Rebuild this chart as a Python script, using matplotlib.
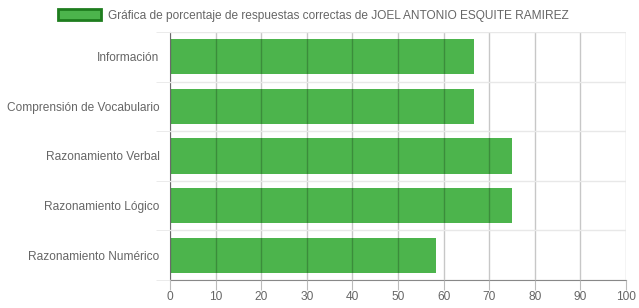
#!/usr/bin/env python3

# Porcentaje de respuestas correctas por area

import numpy as np
import matplotlib.pyplot as plt
from matplotlib.patches import Patch

areas = [
    "Información",
    "Comprensión de Vocabulario",
    "Razonamiento Verbal",
    "Razonamiento Lógico",
    "Razonamiento Numérico",
]
porcentajes = [66.67, 66.67, 75.0, 75.0, 58.33]
x_ticks = list(range(0, 101, 10))
titulo = "Gráfica de porcentaje de respuestas correctas de JOEL ANTONIO ESQUITE RAMIREZ"

plt.rcParams["font.family"] = ["Liberation Sans", "DejaVu Sans"]
fs = 8.6

fig = plt.figure(figsize=(6.39, 3.08), dpi=100)
ax = fig.add_axes([170 / 639, 28 / 308, 456 / 639, 248 / 308])

y = np.arange(len(areas))
ax.barh(y, porcentajes, height=0.71, color="#4cb44c", zorder=2)

ax.set_xlim(0, 100)
ax.set_ylim(len(areas) - 0.5, -0.5)
ax.set_xticks(x_ticks)
ax.set_yticks(y)
ax.set_yticklabels(areas)
ax.set_yticks(np.arange(-0.5, len(areas), 1), minor=True)

# grid lines: vertical darker, drawn over bars; horizontal light, at boundaries
ax.grid(axis="x", color="#000000", alpha=0.22, lw=1, zorder=3)
ax.grid(axis="y", which="minor", color="#e8e8e8", lw=1, zorder=1)
ax.set_axisbelow(False)

for s in ["top", "right"]:
    ax.spines[s].set_visible(False)
ax.spines["left"].set_color("#888888")
ax.spines["bottom"].set_color("#888888")

ax.tick_params(axis="x", which="major", length=7, color="#bbbbbb", labelsize=fs,
               labelcolor="#666666", pad=1)
ax.tick_params(axis="y", which="major", length=0, labelsize=fs,
               labelcolor="#666666", pad=7.5)
ax.tick_params(axis="y", which="minor", length=10, color="#e8e8e8")

handle = Patch(facecolor="#4cb44c", edgecolor="#1e7d1e", linewidth=2)
fig.legend([handle], [titulo], loc="upper center",
           bbox_to_anchor=(0.5 - 6 / 639, 1.0 - 1 / 308),
           frameon=False, fontsize=fs, labelcolor="#666666", handlelength=3.6,
           handleheight=1.0, handletextpad=0.6, borderaxespad=0.3)

fig.savefig("out.png", dpi=100)
